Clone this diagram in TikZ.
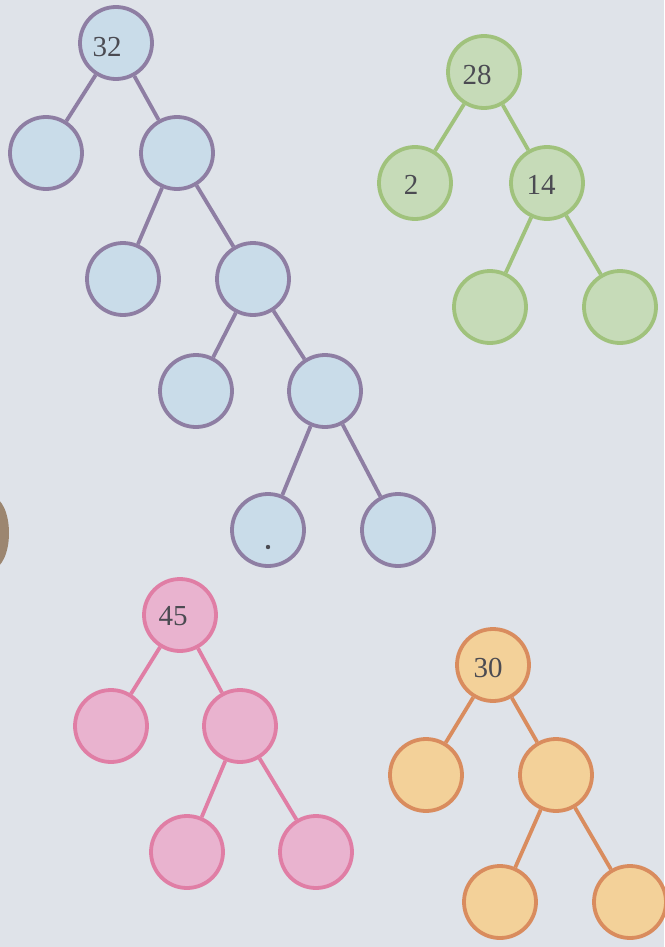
\documentclass[tikz,border=0pt]{standalone}
\usepackage{fontspec}
\setmainfont{Liberation Serif}
\definecolor{bgc}{HTML}{DFE3E9}
\definecolor{bfill}{HTML}{C9DCE9}
\definecolor{bline}{HTML}{8E7EA3}
\definecolor{gfill}{HTML}{C6DBB8}
\definecolor{gline}{HTML}{A0C27C}
\definecolor{pfill}{HTML}{E9B3CF}
\definecolor{pline}{HTML}{E07EA5}
\definecolor{ofill}{HTML}{F3D199}
\definecolor{oline}{HTML}{D98C5E}
\definecolor{txt}{HTML}{4B4B52}
\definecolor{blob}{HTML}{9C8670}
\begin{document}
\begin{tikzpicture}[x=1pt,y=-1pt,
  tnode/.style={circle,minimum size=72pt,inner sep=0pt,line width=3.8pt},
  bnode/.style={tnode,draw=bline,fill=bfill},
  gnode/.style={tnode,draw=gline,fill=gfill},
  pnode/.style={tnode,draw=pline,fill=pfill},
  onode/.style={tnode,draw=oline,fill=ofill},
  lab/.style={font=\fontsize{29}{32}\selectfont,text=txt,inner sep=0pt},
  bedge/.style={draw=bline,line width=3.8pt},
  gedge/.style={draw=gline,line width=3.8pt},
  pedge/.style={draw=pline,line width=3.8pt},
  oedge/.style={draw=oline,line width=3.8pt}]
\useasboundingbox (0,0) rectangle (664,947);
\fill[bgc] (0,0) rectangle (664,947);
\fill[blob] (-8,533) ellipse [x radius=17pt, y radius=36pt];

% blue tree
\node[bnode] (b0) at (116,43) {};
\node[lab] (b0t) at (107,47) {32};
\node[bnode] (b1) at (46,153) {};
\node[bnode] (b2) at (177,153) {};
\node[bnode] (b3) at (123,279) {};
\node[bnode] (b4) at (253,279) {};
\node[bnode] (b5) at (196,391) {};
\node[bnode] (b6) at (325,391) {};
\node[bnode] (b7) at (268,530) {};
\node[bnode] (b8) at (398,530) {};
\fill[txt] (268,547) circle (2.2pt);
\draw[bedge] (b0) -- (b1);
\draw[bedge] (b0) -- (b2);
\draw[bedge] (b2) -- (b3);
\draw[bedge] (b2) -- (b4);
\draw[bedge] (b4) -- (b5);
\draw[bedge] (b4) -- (b6);
\draw[bedge] (b6) -- (b7);
\draw[bedge] (b6) -- (b8);

% green tree
\node[gnode] (g0) at (484,72) {};
\node[lab] (g0t) at (477,75) {28};
\node[gnode] (g1) at (415,183) {};
\node[lab] (g1t) at (411,185) {2};
\node[gnode] (g2) at (547,183) {};
\node[lab] (g2t) at (541,185) {14};
\node[gnode] (g3) at (490,307) {};
\node[gnode] (g4) at (620,307) {};
\draw[gedge] (g0) -- (g1);
\draw[gedge] (g0) -- (g2);
\draw[gedge] (g2) -- (g3);
\draw[gedge] (g2) -- (g4);

% pink tree
\node[pnode] (p0) at (180,615) {};
\node[lab] (p0t) at (173,616) {45};
\node[pnode] (p1) at (111,726) {};
\node[pnode] (p2) at (240,726) {};
\node[pnode] (p3) at (187,852) {};
\node[pnode] (p4) at (316,852) {};
\draw[pedge] (p0) -- (p1);
\draw[pedge] (p0) -- (p2);
\draw[pedge] (p2) -- (p3);
\draw[pedge] (p2) -- (p4);

% orange tree
\node[onode] (o0) at (493,665) {};
\node[lab] (o0t) at (488,668) {30};
\node[onode] (o1) at (426,775) {};
\node[onode] (o2) at (556,775) {};
\node[onode] (o3) at (500,902) {};
\node[onode] (o4) at (630,902) {};
\draw[oedge] (o0) -- (o1);
\draw[oedge] (o0) -- (o2);
\draw[oedge] (o2) -- (o3);
\draw[oedge] (o2) -- (o4);
\end{tikzpicture}
\end{document}
